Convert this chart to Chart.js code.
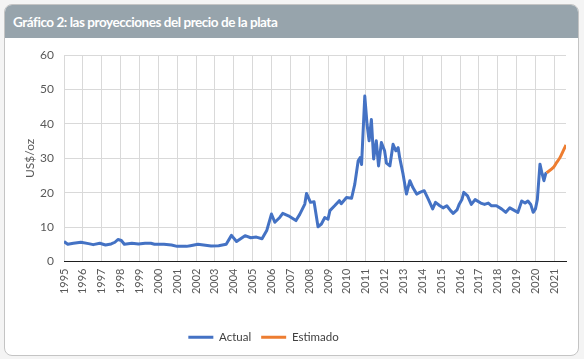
<!DOCTYPE html>
<html>
<head>
<meta charset="utf-8">
<script src="https://cdn.jsdelivr.net/npm/chart.js@4.4.0/dist/chart.umd.min.js"></script>
<style>
    html, body { margin: 0; padding: 0; background: #f4f4f4; }
    #card {
        position: absolute; left: 4px; top: 4px;
        width: 573px; height: 350px;
        background: #fff; border: 1px solid #c4c4c4; border-radius: 8px;
        overflow: hidden;
    }
    #titlebar {
        height: 33px; background: #97a4ac; color: #fff;
        font: bold 13.5px Lato, sans-serif; letter-spacing: -0.45px;
        line-height: 34px; padding-left: 8px;
    }
    #wrap { position: absolute; left: 0; top: 33px; width: 573px; height: 317px; }
</style>
</head>
<body>
<div id="card">
    <div id="titlebar">Gráfico 2: las proyecciones del precio de la plata</div>
    <div id="wrap"><canvas id="silverChart"></canvas></div>
</div>
<script>
// Datos (año decimal, US$/oz)
const actualYears = [1995.0, 1995.2, 1995.5, 1995.9, 1996.3, 1996.55, 1996.9, 1997.2, 1997.5, 1997.7,
    1997.86, 1998.04, 1998.2, 1998.6, 1998.95, 1999.3, 1999.6, 1999.8, 2000.3, 2000.7,
    2001.0, 2001.5, 2001.7, 2002.1, 2002.4, 2002.8, 2003.2, 2003.6, 2003.88, 2004.15,
    2004.6, 2004.9, 2005.2, 2005.5, 2005.75, 2006.0, 2006.18, 2006.44, 2006.6, 2006.9,
    2007.3, 2007.5, 2007.77, 2007.86, 2008.07, 2008.26, 2008.47, 2008.65, 2008.83, 2009.0,
    2009.1, 2009.35, 2009.6, 2009.7, 2009.98, 2010.25, 2010.42, 2010.6, 2010.7, 2010.78,
    2010.95, 2011.07, 2011.18, 2011.3, 2011.42, 2011.56, 2011.68, 2011.83, 2012.0, 2012.1,
    2012.28, 2012.45, 2012.6, 2012.72, 2012.8, 2012.98, 2013.16, 2013.34, 2013.5, 2013.7,
    2013.87, 2014.1, 2014.31, 2014.55, 2014.7, 2014.93, 2015.1, 2015.3, 2015.5, 2015.64,
    2015.84, 2015.95, 2016.1, 2016.2, 2016.4, 2016.6, 2016.8, 2017.1, 2017.3, 2017.5,
    2017.67, 2017.93, 2018.2, 2018.43, 2018.64, 2018.9, 2019.07, 2019.27, 2019.45, 2019.6,
    2019.75, 2019.88, 2020.0, 2020.1, 2020.24, 2020.35, 2020.45, 2020.55, 2020.59];
const actualPrices = [5.8, 5.0, 5.3, 5.6, 5.2, 4.9, 5.3, 4.8, 5.1, 5.6,
    6.4, 6.1, 5.0, 5.3, 5.1, 5.3, 5.3, 5.0, 5.0, 4.8,
    4.4, 4.4, 4.6, 5.0, 4.8, 4.5, 4.6, 5.0, 7.6, 5.8,
    7.5, 6.9, 7.1, 6.6, 9.0, 13.8, 11.4, 12.8, 14.0, 13.3,
    11.9, 13.7, 16.7, 19.8, 17.2, 17.4, 10.1, 10.9, 12.8, 12.3,
    14.8, 16.2, 17.7, 16.8, 18.6, 18.4, 22.5, 29.3, 30.2, 28.2,
    48.1, 39.9, 35.1, 41.3, 29.8, 35.1, 27.8, 34.6, 32.2, 28.6,
    27.8, 34.1, 32.2, 33.1, 30.2, 25.4, 19.6, 23.5, 21.5, 19.6,
    20.1, 20.6, 18.2, 15.3, 17.2, 16.2, 15.6, 16.2, 14.8, 14.0,
    15.0, 16.6, 18.0, 20.1, 19.1, 16.6, 18.0, 17.0, 16.6, 17.0,
    16.2, 16.2, 15.3, 14.3, 15.6, 14.8, 14.3, 17.6, 17.0, 17.6,
    16.6, 14.3, 15.3, 18.0, 28.3, 25.6, 23.5, 25.6, 25.8];

const estimadoYears = [2020.59, 2020.94, 2021.1, 2021.3, 2021.62];
const estimadoPrices = [25.8, 27.3, 28.6, 30.2, 33.9];

const yearLabels = ['1995', '1996', '1997', '1998', '1999', '2000', '2001', '2002', '2003',
    '2004', '2005', '2006', '2007', '2008', '2009', '2010', '2011', '2012', '2013',
    '2014', '2015', '2016', '2017', '2018', '2019', '2020', '2021'];

const toPoints = (xs, ys) => xs.map((x, i) => ({ x: x, y: ys[i] }));

const font = { family: 'Lato, sans-serif', size: 11 };
const gridColor = '#d9d9d9';

// la leyenda de Excel queda un poco a la izquierda del centro
const legendShift = {
    id: 'legendShift',
    afterLayout: function(chart) {
        if (chart.legend) {
            chart.legend.left -= 22;
            chart.legend.right -= 22;
        }
    }
};

const ctx = document.getElementById('silverChart').getContext('2d');
new Chart(ctx, {
    type: 'line',
    data: {
        datasets: [{
            label: 'Actual',
            data: toPoints(actualYears, actualPrices),
            borderColor: '#4472c4',
            backgroundColor: '#4472c4',
            borderWidth: 3,
            pointRadius: 0,
            tension: 0,
            borderJoinStyle: 'round'
        }, {
            label: 'Estimado',
            data: toPoints(estimadoYears, estimadoPrices),
            borderColor: '#ed7d31',
            backgroundColor: '#ed7d31',
            borderWidth: 3,
            pointRadius: 0,
            tension: 0.3
        }]
    },
    options: {
        responsive: true,
        maintainAspectRatio: false,
        animation: false,
        layout: { padding: { left: 0, right: 12, top: 16, bottom: 2 } },
        plugins: {
            legend: {
                position: 'bottom',
                labels: {
                    usePointStyle: true,
                    pointStyle: 'line',
                    pointStyleWidth: 25,
                    padding: 10,
                    color: '#404040',
                    font: { family: 'Lato, sans-serif', size: 11.5 }
                }
            },
            tooltip: { enabled: false }
        },
        scales: {
            x: {
                type: 'linear',
                min: 1995,
                max: 2021.62,
                afterBuildTicks: function(scale) {
                    scale.ticks = yearLabels.map(y => ({ value: Number(y) }));
                },
                afterFit: function(scale) { scale.height = 60; },
                grid: { color: gridColor, drawTicks: false },
                border: { color: '#1f1f1f', width: 1 },
                ticks: {
                    autoSkip: false,
                    minRotation: 90,
                    maxRotation: 90,
                    padding: 7,
                    color: '#595959',
                    font: font,
                    callback: function(value) { return String(value); }
                }
            },
            y: {
                min: 0,
                max: 60,
                afterFit: function(scale) { scale.width = 59; },
                grid: { color: gridColor, drawTicks: false },
                border: { display: false },
                ticks: { stepSize: 10, padding: 10, color: '#595959', font: { family: 'Lato, sans-serif', size: 12 } },
                title: {
                    display: true,
                    text: 'US$/oz',
                    color: '#595959',
                    padding: { top: 18, bottom: 0 },
                    font: { family: 'Lato, sans-serif', size: 12 }
                }
            }
        }
    },
    plugins: [legendShift]
});
</script>
</body>
</html>
